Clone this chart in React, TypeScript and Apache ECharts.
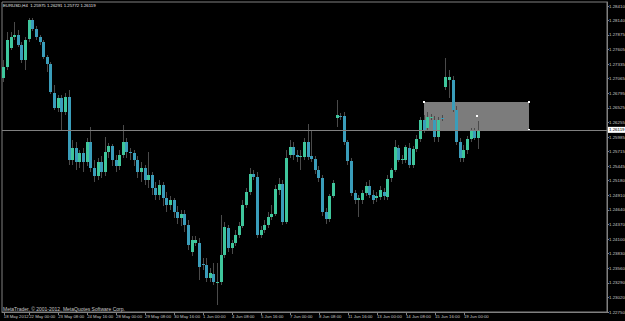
import React, { useEffect, useRef } from "react";
import * as echarts from "echarts";

const symbolTitle = "EURUSD,H4  1.25975 1.26291 1.25772 1.26119";
const copyright = "MetaTrader, \u00a9 2001-2012, MetaQuotes Software Corp.";

const dateLabels = [
  "18 May 2012", "22 May 00:00", "23 May 08:00", "24 May 16:00", "28 May 00:00",
  "29 May 08:00", "30 May 16:00", "1 Jun 00:00", "4 Jun 08:00", "5 Jun 16:00",
  "7 Jun 00:00", "8 Jun 08:00", "11 Jun 16:00", "13 Jun 00:00", "14 Jun 08:00",
  "15 Jun 16:00", "19 Jun 00:00",
];

const priceTicks = [
  1.2275, 1.2302, 1.2329, 1.2356, 1.2383, 1.241, 1.2437, 1.2464, 1.2491, 1.2518, 1.25445,
  1.25715, 1.25985, 1.26255, 1.26525, 1.26795, 1.27065, 1.27335, 1.27605, 1.27875, 1.2814, 1.2841,
];

const barOpen = [
  1.2708, 1.2728, 1.2763, 1.2784, 1.2787, 1.2769, 1.2741, 1.278, 1.2815, 1.2798,
  1.2784, 1.2774, 1.2747, 1.2734, 1.268, 1.2652, 1.2671, 1.2645, 1.2673, 1.2556,
  1.2578, 1.2552, 1.2569, 1.2552, 1.2589, 1.2541, 1.2526, 1.2552, 1.2534, 1.2571,
  1.2582, 1.2556, 1.2545, 1.2565, 1.2589, 1.2571, 1.2569, 1.2556, 1.2534, 1.2541,
  1.2519, 1.2528, 1.2504, 1.2491, 1.251, 1.2486, 1.2473, 1.2482, 1.246, 1.2449,
  1.2456, 1.2436, 1.2386, 1.2402, 1.2402, 1.2364, 1.2362, 1.2338, 1.2345, 1.233,
  1.233, 1.238, 1.243, 1.2393, 1.2402, 1.2417, 1.2434, 1.2473, 1.2497, 1.253,
  1.2525, 1.2417, 1.2427, 1.2436, 1.2451, 1.2456, 1.25, 1.2512, 1.2441, 1.2565,
  1.258, 1.2565, 1.2562, 1.2562, 1.2589, 1.2563, 1.2558, 1.2538, 1.2523, 1.246,
  1.2447, 1.2489, 1.2634, 1.2637, 1.2637, 1.2589, 1.2554, 1.2495, 1.2482, 1.2482,
  1.2495, 1.2508, 1.2491, 1.2486, 1.2488, 1.2497, 1.2488, 1.2523, 1.2538, 1.2578,
  1.2556, 1.2556, 1.2578, 1.2547, 1.2576, 1.2595, 1.263, 1.2615, 1.2634, 1.263,
  1.2599, 1.2634, 1.2691, 1.2704, 1.2704, 1.2649, 1.2589, 1.256, 1.2575, 1.2595,
  1.261, 1.25975,
];

const barClose = [
  1.2728, 1.2778, 1.2784, 1.2787, 1.2769, 1.2741, 1.2778, 1.2815, 1.2798, 1.2784,
  1.2774, 1.2747, 1.2734, 1.2682, 1.2652, 1.2671, 1.2645, 1.2673, 1.2556, 1.2578,
  1.2552, 1.2569, 1.2552, 1.2589, 1.2541, 1.2526, 1.2552, 1.2534, 1.2571, 1.2582,
  1.2556, 1.2545, 1.2565, 1.2589, 1.2571, 1.2569, 1.2556, 1.2534, 1.2541, 1.2519,
  1.2528, 1.2504, 1.2491, 1.251, 1.2486, 1.2473, 1.2482, 1.246, 1.2449, 1.2456,
  1.2436, 1.2399, 1.2408, 1.2408, 1.2358, 1.2362, 1.2338, 1.2347, 1.233, 1.2331,
  1.238, 1.2432, 1.2393, 1.2402, 1.2417, 1.2434, 1.2473, 1.2497, 1.253, 1.2525,
  1.2417, 1.2427, 1.2436, 1.2451, 1.2456, 1.2502, 1.2512, 1.2441, 1.256, 1.258,
  1.2565, 1.2562, 1.2563, 1.2589, 1.2562, 1.2558, 1.2538, 1.2523, 1.246, 1.2447,
  1.2489, 1.2513, 1.2639, 1.2636, 1.2589, 1.2554, 1.2495, 1.2482, 1.2486, 1.2495,
  1.2508, 1.2491, 1.2482, 1.2489, 1.25, 1.2489, 1.2521, 1.2538, 1.258, 1.2556,
  1.2558, 1.258, 1.2547, 1.2576, 1.2595, 1.263, 1.2612, 1.2636, 1.2636, 1.2599,
  1.263, 1.2632, 1.271, 1.271, 1.2649, 1.2589, 1.256, 1.2575, 1.2595, 1.261,
  1.2597, 1.26119,
];

const barHigh = [
  1.2741, 1.2793, 1.2793, 1.2811, 1.2797, 1.2774, 1.2784, 1.2819, 1.2819, 1.2804,
  1.2787, 1.2778, 1.275, 1.2737, 1.2695, 1.2676, 1.2676, 1.268, 1.2686, 1.2593,
  1.2589, 1.2575, 1.2578, 1.2597, 1.2617, 1.2556, 1.256, 1.2563, 1.2599, 1.2587,
  1.2586, 1.2565, 1.2575, 1.2621, 1.2597, 1.2578, 1.2575, 1.2563, 1.2552, 1.2547,
  1.2571, 1.2534, 1.2515, 1.2519, 1.2515, 1.2497, 1.2489, 1.2486, 1.2471, 1.2464,
  1.2464, 1.2445, 1.2415, 1.2415, 1.2412, 1.2375, 1.2375, 1.2356, 1.2365, 1.2365,
  1.2454, 1.2441, 1.2436, 1.2408, 1.2427, 1.2441, 1.2482, 1.2504, 1.2541, 1.2538,
  1.2534, 1.2434, 1.2445, 1.246, 1.2473, 1.251, 1.2523, 1.2519, 1.2575, 1.2593,
  1.2589, 1.2575, 1.2575, 1.2597, 1.2623, 1.2612, 1.2563, 1.2545, 1.2528, 1.2467,
  1.2493, 1.2519, 1.2667, 1.2643, 1.2645, 1.2593, 1.256, 1.25, 1.2491, 1.25,
  1.2515, 1.2519, 1.25, 1.2497, 1.2508, 1.2504, 1.2528, 1.2541, 1.2593, 1.2584,
  1.2565, 1.2584, 1.2587, 1.2582, 1.2602, 1.2636, 1.2639, 1.2645, 1.2641, 1.2637,
  1.2636, 1.2639, 1.2745, 1.2722, 1.2711, 1.2656, 1.2597, 1.2584, 1.26, 1.2615,
  1.2615, 1.26291,
];

const barLow = [
  1.27, 1.2722, 1.276, 1.2778, 1.2765, 1.2735, 1.2722, 1.2774, 1.2795, 1.2778,
  1.2769, 1.2743, 1.2719, 1.2678, 1.2649, 1.2645, 1.2612, 1.2639, 1.2547, 1.2547,
  1.2538, 1.2541, 1.2534, 1.2545, 1.2534, 1.2515, 1.2519, 1.2523, 1.2526, 1.256,
  1.2545, 1.2534, 1.2538, 1.256, 1.256, 1.2556, 1.2545, 1.2523, 1.2515, 1.251,
  1.2504, 1.2491, 1.2482, 1.2482, 1.2471, 1.246, 1.2464, 1.2449, 1.2438, 1.2434,
  1.2423, 1.239, 1.2378, 1.2397, 1.2334, 1.2353, 1.233, 1.233, 1.2325, 1.2288,
  1.2325, 1.2375, 1.2386, 1.2382, 1.2397, 1.2412, 1.243, 1.2467, 1.2491, 1.2519,
  1.2412, 1.2412, 1.2421, 1.243, 1.2445, 1.2452, 1.2491, 1.2436, 1.2438, 1.256,
  1.2556, 1.2552, 1.2538, 1.2556, 1.2556, 1.2552, 1.253, 1.2515, 1.2452, 1.2438,
  1.2441, 1.2486, 1.2617, 1.263, 1.2584, 1.2547, 1.2489, 1.2475, 1.2451, 1.2475,
  1.2489, 1.2486, 1.2475, 1.2478, 1.2482, 1.2482, 1.2482, 1.2515, 1.2534, 1.2552,
  1.2549, 1.255, 1.2541, 1.2541, 1.2571, 1.2589, 1.2606, 1.2612, 1.263, 1.2589,
  1.2589, 1.2628, 1.2686, 1.2671, 1.2645, 1.2584, 1.2552, 1.2552, 1.2567, 1.2589,
  1.2593, 1.25772,
];

// rectangle object drawn on the chart (bar slots and prices of its corners)
const rectSlots = [116, 145];
const rectPrices = [1.2663, 1.2612];

const TOTAL_SLOTS = 167;
const LABEL_STEP = 8;

const BULL = "#3fc69c";
const BEAR = "#3a9dba";
const WICK = "#4a4a4a";
const GRAY = "#808080";
const TEXT = "#c8c8c8";
const FONT = "Liberation Sans";

export default function App() {
  const ref = useRef<HTMLDivElement>(null);

  useEffect(() => {
    if (!ref.current) return;
    const chart = echarts.init(ref.current, undefined, { renderer: "svg" });
    const categories = Array.from({ length: TOTAL_SLOTS }, (_, i) => "b" + i);
    const candleRows = barOpen.map((o, i) => [i, o, barClose[i], barLow[i], barHigh[i]]);
    const lastClose = barClose[barClose.length - 1];
    // label k sits on slot 0 for k = 0, otherwise on slot 8k - 1
    const labelIndex = (i: number) => {
      if (i === 0) return 0;
      if ((i + 1) % LABEL_STEP === 0) {
        const k = (i + 1) / LABEL_STEP;
        return k < dateLabels.length ? k : -1;
      }
      return -1;
    };

    chart.setOption({
      animation: false,
      backgroundColor: "#000",
      textStyle: { fontFamily: FONT },
      grid: {
        left: 2, right: 18, top: 2, bottom: 9,
        outerBoundsMode: "none",
        containLabel: false,
        show: true, borderColor: GRAY, borderWidth: 1,
      },
      graphic: [
        {
          type: "text", left: 3, top: 3,
          style: { text: symbolTitle, fill: "#e6e6e6", font: `4.3px "${FONT}"` },
        },
        {
          type: "text", left: 3, top: 306,
          style: { text: copyright, fill: TEXT, font: `5px "${FONT}"` },
        },
      ],
      xAxis: {
        type: "category",
        data: categories,
        boundaryGap: true,
        axisLine: { show: true, lineStyle: { color: GRAY, width: 1 } },
        axisTick: {
          show: true, alignWithLabel: true, length: 3,
          interval: (i: number) => labelIndex(i) >= 0,
          lineStyle: { color: GRAY },
        },
        axisLabel: {
          show: true,
          interval: (i: number) => labelIndex(i) >= 0,
          formatter: (_v: string, i: number) => {
            const k = labelIndex(i);
            return k >= 0 ? dateLabels[k] : "";
          },
          hideOverlap: false,
          align: "left",
          margin: 2,
          color: TEXT,
          fontSize: 4.3,
          fontFamily: FONT,
        },
        splitLine: { show: false },
      },
      yAxis: {
        type: "value",
        position: "right",
        min: 1.2275,
        max: 1.28484,
        axisLine: { show: true, lineStyle: { color: GRAY, width: 1 } },
        axisTick: { show: true, length: 2, customValues: priceTicks, lineStyle: { color: GRAY } },
        axisLabel: {
          show: true,
          customValues: priceTicks,
          formatter: (v: number) => v.toFixed(5),
          margin: 2,
          hideOverlap: false,
          color: TEXT,
          fontSize: 4.4,
          fontFamily: FONT,
        },
        splitLine: { show: false },
      },
      series: [
        {
          type: "custom",
          z: 1,
          silent: true,
          data: [[rectSlots[0], rectPrices[0], rectSlots[1], rectPrices[1]]],
          encode: { x: [0, 2], y: [1, 3] },
          renderItem: (_p: any, api: any) => {
            const a = api.coord([api.value(0), api.value(1)]);
            const b = api.coord([api.value(2), api.value(3)]);
            const x1 = Math.round(Math.min(a[0], b[0]));
            const x2 = Math.round(Math.max(a[0], b[0]));
            const y1 = Math.round(Math.min(a[1], b[1]));
            const y2 = Math.round(Math.max(a[1], b[1]));
            const cx = Math.round((x1 + x2) / 2);
            const cy = Math.round((y1 + y2) / 2);
            const dot = (x: number, y: number) => ({
              type: "rect",
              shape: { x: x - 1, y: y - 1, width: 2, height: 2 },
              style: { fill: "#ffffff" },
            });
            return {
              type: "group",
              children: [
                {
                  type: "rect",
                  shape: { x: x1, y: y1, width: x2 - x1, height: y2 - y1 },
                  style: { fill: "#7c7c7c" },
                },
                dot(x1, y1), dot(x2, y1), dot(x1, y2), dot(x2, y2), dot(cx, cy),
              ],
            };
          },
        },
        {
          type: "line",
          z: 2,
          silent: true,
          data: [],
          markLine: {
            silent: true,
            precision: 5,
            symbol: ["none", "none"],
            lineStyle: { color: GRAY, width: 1, type: "solid" },
            label: {
              show: true,
              position: "end",
              distance: 1,
              formatter: () => lastClose.toFixed(5),
              backgroundColor: "#ffffff",
              color: "#000000",
              fontSize: 4.4,
              fontFamily: FONT,
              padding: [1, 1, 1, 1],
            },
            data: [{ yAxis: lastClose }],
          },
        },
        {
          type: "custom",
          z: 3,
          silent: true,
          data: candleRows,
          encode: { x: 0, y: [1, 2, 3, 4] },
          renderItem: (_p: any, api: any) => {
            const i = api.value(0);
            const o = api.value(1);
            const c = api.value(2);
            const l = api.value(3);
            const h = api.value(4);
            const pO = api.coord([i, o]);
            const pC = api.coord([i, c]);
            const pL = api.coord([i, l]);
            const pH = api.coord([i, h]);
            const xc = Math.floor(pO[0]);
            const top = Math.round(Math.min(pO[1], pC[1]));
            const bot = Math.round(Math.max(pO[1], pC[1]));
            return {
              type: "group",
              children: [
                {
                  type: "line",
                  shape: { x1: xc + 0.5, y1: Math.round(pH[1]), x2: xc + 0.5, y2: Math.round(pL[1]) },
                  style: { stroke: WICK, lineWidth: 1 },
                },
                {
                  type: "rect",
                  shape: { x: xc - 1, y: top, width: 3, height: Math.max(bot - top, 1) },
                  style: { fill: c >= o ? BULL : BEAR },
                },
              ],
            };
          },
        },
      ],
    });
    return () => chart.dispose();
  }, []);

  return (
    <div
      ref={ref}
      style={{ position: "fixed", left: 0, top: 0, width: 625, height: 321, background: "#000" }}
    />
  );
}
